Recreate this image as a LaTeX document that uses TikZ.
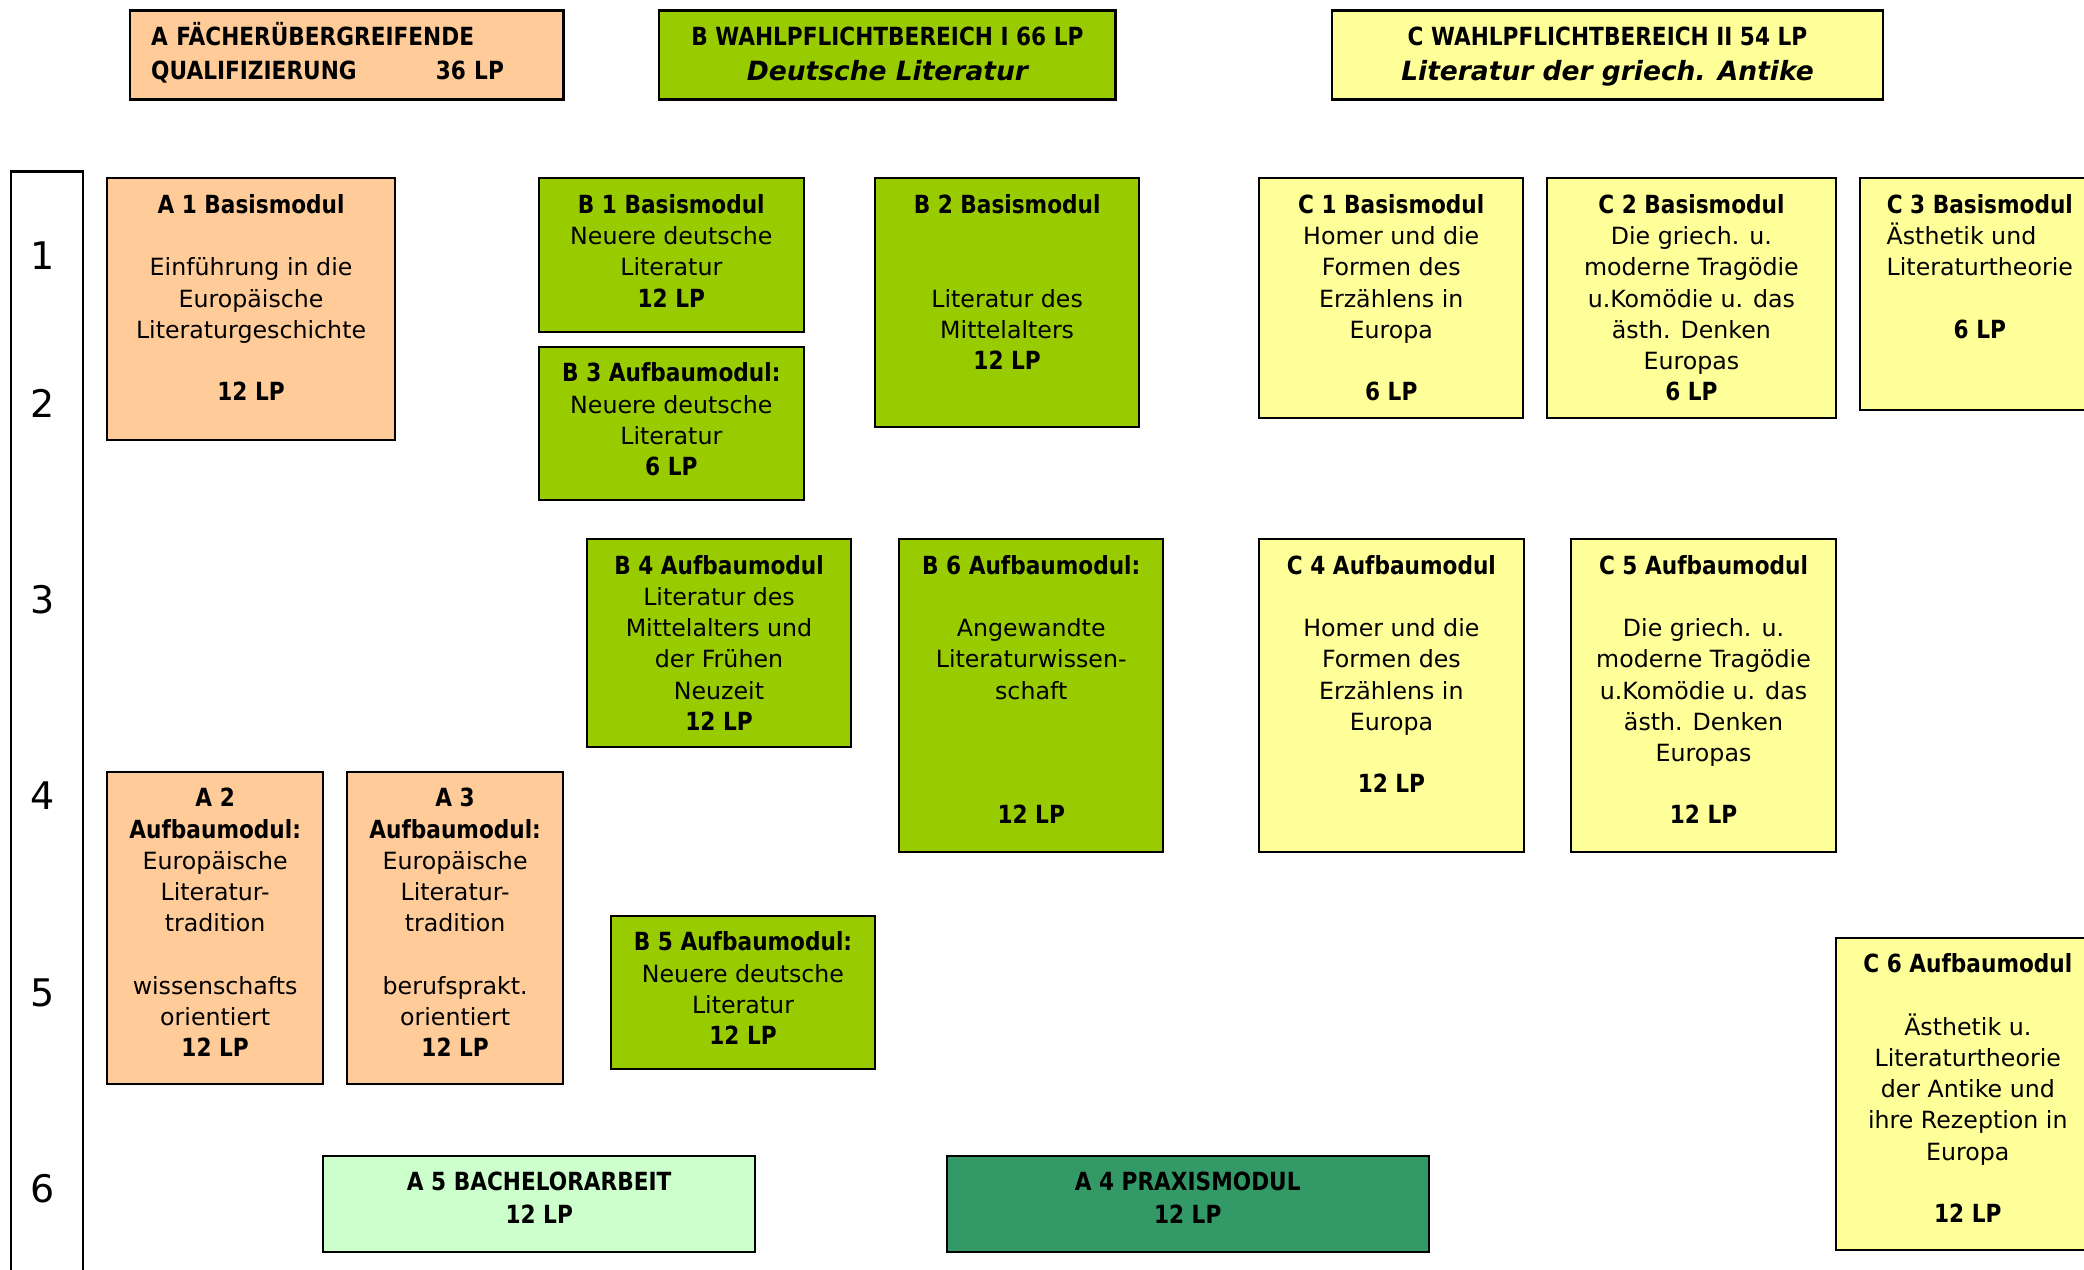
\documentclass[tikz,border=0pt]{standalone}
\usepackage{fontspec}
\setmainfont{DejaVu Sans}
\newfontfamily\dvc{DejaVu Sans}[FakeStretch=0.866]
\usetikzlibrary{fit,calc}
\definecolor{peach}{RGB}{255,204,153}
\definecolor{lime}{RGB}{153,204,0}
\definecolor{lyellow}{RGB}{255,255,153}
\definecolor{mint}{RGB}{204,255,204}
\definecolor{sea}{RGB}{51,153,102}
\newcommand\tb[1]{{\dvc\bfseries\fontsize{25}{31.2}\selectfont #1}}
\tikzset{
  box/.style={draw=black, line width=2.2pt, inner sep=0pt, outer sep=0pt},
  txt/.style={anchor=north, align=center, inner sep=0pt, font=\fontsize{23.7}{31.2}\selectfont},
  htxt/.style={anchor=north, align=center, inner sep=0pt, font=\dvc\bfseries\fontsize{25}{35}\selectfont},
  btxt/.style={anchor=north, align=center, inner sep=0pt, font=\dvc\bfseries\fontsize{25}{33.3}\selectfont},
  num/.style={inner sep=0pt, font=\fontsize{38}{40}\selectfont},
  frame/.style={draw=black, line width=2.2pt},
}
\begin{document}
\begin{tikzpicture}[x=1pt,y=-1pt]
\useasboundingbox (0,0) rectangle (2084,1269);
\clip (0,0) rectangle (2084,1269);
\fill[white] (0,0) rectangle (2084,1269);

% left column
\coordinate (colBL) at (10.6,1300);
\coordinate (colTL) at (10.6,171.5);
\coordinate (colTR) at (83.3,171.5);
\coordinate (colBR) at (83.3,1300);
\draw[frame] (colBL) -- (colTL) -- (colTR) -- (colBR);
\node[num] (n1) at (43,255.5) {1};
\node[num] (n2) at (43,403.5) {2};
\node[num] (n3) at (43,600) {3};
\node[num] (n4) at (43,795.5) {4};
\node[num] (n5) at (43,993) {5};
\node[num] (n6) at (43,1189) {6};

% headers
\node[box, fill=peach, fit={(130,10.5) (563.5,99.5)}] (hA) {};
\node[anchor=north west, inner sep=0pt, text width=352.7pt, align=left,
      font=\dvc\bfseries\fontsize{25}{33.3}\selectfont] (hAt)
      at ($(hA.north west)+(21,11.8)$) {\strut A FÄCHERÜBERGREIFENDE\\QUALIFIZIERUNG\hfill 36 LP};
\node[box, fill=lime, fit={(659.3,10.5) (1115.5,99.5)}] (hB) {};
\node[htxt] (hBt) at ($(hB.north)+(0,10.5)$) {\strut B WAHLPFLICHTBEREICH I 66 LP\\{\normalfont\bfseries\itshape\fontsize{26.5}{35}\selectfont Deutsche Literatur}};
\node[box, fill=lyellow, fit={(1331.7,10.5) (1883.3,99.5)}] (hC) {};
\node[htxt] (hCt) at ($(hC.north)+(0,10.5)$) {\strut C WAHLPFLICHTBEREICH II 54 LP\\{\normalfont\bfseries\itshape\fontsize{26.5}{35}\selectfont Literatur der griech. Antike}};

% A modules
\node[box, fill=peach, fit={(107.2,178.3) (394.9,440)}] (A1) {};
\node[txt] (A1t) at ($(A1.north)+(0,13.2)$) {\strut\tb{A 1 Basismodul}\\ \mbox{}\\ Einführung in die\\ Europäische\\ Literaturgeschichte\\ \mbox{}\\ \tb{12 LP}};
\node[box, fill=peach, fit={(107.1,771.7) (323.2,1084)}] (A2) {};
\node[txt] (A2t) at ($(A2.north)+(0,13.2)$) {\strut\tb{A 2}\\ \tb{Aufbaumodul:}\\ Europäische\\ Literatur-\\ tradition\\ \mbox{}\\ wissenschafts\\ orientiert\\ \tb{12 LP}};
\node[box, fill=peach, fit={(347,771.7) (563.2,1084)}] (A3) {};
\node[txt] (A3t) at ($(A3.north)+(0,13.2)$) {\strut\tb{A 3}\\ \tb{Aufbaumodul:}\\ Europäische\\ Literatur-\\ tradition\\ \mbox{}\\ berufsprakt.\\ orientiert\\ \tb{12 LP}};
\node[box, fill=mint, fit={(323.3,1155.7) (755.1,1251.7)}] (A5) {};
\node[btxt] (A5t) at ($(A5.north)+(0,11.2)$) {\strut A 5 BACHELORARBEIT\\ 12 LP};
\node[box, fill=sea, fit={(946.8,1155.7) (1428.6,1251.7)}] (A4) {};
\node[btxt] (A4t) at ($(A4.north)+(0,11.2)$) {\strut A 4 PRAXISMODUL\\ 12 LP};

% B modules
\node[box, fill=lime, fit={(538.7,178.3) (803.9,331.7)}] (B1) {};
\node[txt] (B1t) at ($(B1.north)+(0,13.2)$) {\strut\tb{B 1 Basismodul}\\ Neuere deutsche\\ Literatur\\ \tb{12 LP}};
\node[box, fill=lime, fit={(538.7,346.7) (803.9,500)}] (B3) {};
\node[txt] (B3t) at ($(B3.north)+(0,13.2)$) {\strut\tb{B 3 Aufbaumodul:}\\ Neuere deutsche\\ Literatur\\ \tb{6 LP}};
\node[box, fill=lime, fit={(875.3,178.3) (1139,427.3)}] (B2) {};
\node[txt] (B2t) at ($(B2.north)+(0,13.2)$) {\strut\tb{B 2 Basismodul}\\ \mbox{}\\ \mbox{}\\ Literatur des\\ Mittelalters\\ \tb{12 LP}};
\node[box, fill=lime, fit={(587,539) (851,746.7)}] (B4) {};
\node[txt] (B4t) at ($(B4.north)+(0,13.2)$) {\strut\tb{B 4 Aufbaumodul}\\ Literatur des\\ Mittelalters und\\ der Frühen\\ Neuzeit\\ \tb{12 LP}};
\node[box, fill=lime, fit={(899.2,539) (1163.2,851.7)}] (B6) {};
\node[txt] (B6t) at ($(B6.north)+(0,13.2)$) {\strut\tb{B 6 Aufbaumodul:}\\ \mbox{}\\ Angewandte\\ Literaturwissen-\\ schaft\\ \mbox{}\\ \mbox{}\\ \mbox{}\\ \tb{12 LP}};
\node[box, fill=lime, fit={(611,915.7) (875,1069)}] (B5) {};
\node[txt] (B5t) at ($(B5.north)+(0,13.2)$) {\strut\tb{B 5 Aufbaumodul:}\\ Neuere deutsche\\ Literatur\\ \tb{12 LP}};

% C modules
\node[box, fill=lyellow, fit={(1259.3,178.3) (1523.2,418.3)}] (C1) {};
\node[txt] (C1t) at ($(C1.north)+(0,13.2)$) {\strut\tb{C 1 Basismodul}\\ Homer und die\\ Formen des\\ Erzählens in\\ Europa\\ \mbox{}\\ \tb{6 LP}};
\node[box, fill=lyellow, fit={(1547,178.3) (1835.8,418.3)}] (C2) {};
\node[txt] (C2t) at ($(C2.north)+(0,13.2)$) {\strut\tb{C 2 Basismodul}\\ Die griech. u.\\ moderne Tragödie\\ u.Komödie u. das\\ ästh. Denken\\ Europas\\ \tb{6 LP}};
\node[box, fill=lyellow, fit={(1859.6,178.3) (2100,410)}] (C3) {};
\node[txt] (C3t) at ($(C3.north)+(0,13.2)$) {\strut\tb{C 3 Basismodul}\\ \rlap{Ästhetik und}\phantom{Literaturtheorie}\\ Literaturtheorie\\ \mbox{}\\ \tb{6 LP}};
\node[box, fill=lyellow, fit={(1259.2,539) (1523.6,851.7)}] (C4) {};
\node[txt] (C4t) at ($(C4.north)+(0,13.2)$) {\strut\tb{C 4 Aufbaumodul}\\ \mbox{}\\ Homer und die\\ Formen des\\ Erzählens in\\ Europa\\ \mbox{}\\ \tb{12 LP}};
\node[box, fill=lyellow, fit={(1571,539) (1836,851.7)}] (C5) {};
\node[txt] (C5t) at ($(C5.north)+(0,13.2)$) {\strut\tb{C 5 Aufbaumodul}\\ \mbox{}\\ Die griech. u.\\ moderne Tragödie\\ u.Komödie u. das\\ ästh. Denken\\ Europas\\ \mbox{}\\ \tb{12 LP}};
\node[box, fill=lyellow, fit={(1835.6,937.7) (2100,1250)}] (C6) {};
\node[txt] (C6t) at ($(C6.north)+(0,13.2)$) {\strut\tb{C 6 Aufbaumodul}\\ \mbox{}\\ Ästhetik u.\\ Literaturtheorie\\ der Antike und\\ ihre Rezeption in\\ Europa\\ \mbox{}\\ \tb{12 LP}};
\end{tikzpicture}
\end{document}
